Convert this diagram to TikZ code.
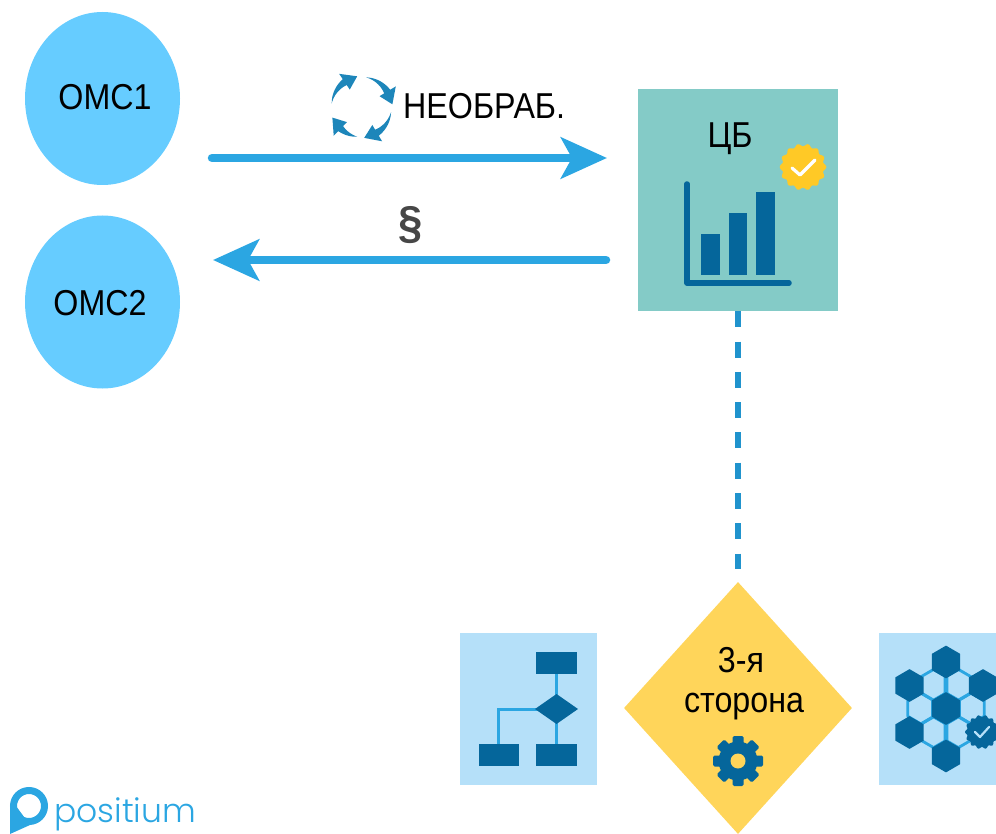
\documentclass[tikz,border=0pt]{standalone}
\usepackage{fontspec}
\setmainfont{Liberation Sans}
\newfontfamily\logofont{Poppins Light}
\usetikzlibrary{arrows.meta,shapes.geometric}
\definecolor{sky}{HTML}{66CCFF}
\definecolor{teal1}{HTML}{84CBC7}
\definecolor{navy1}{HTML}{05669B}
\definecolor{line1}{HTML}{2BA6E2}
\definecolor{pale}{HTML}{B5E0F9}
\definecolor{gold}{HTML}{FFD55A}
\definecolor{badge}{HTML}{FFC926}
\definecolor{cyc}{HTML}{1D86BA}
\newcommand{\hexcell}[3]{\path[shift={(#1,#2)},#3] (13.4,-7.8) -- (0,-15.6) -- (-13.4,-7.8) -- (-13.4,7.8) -- (0,15.6) -- (13.4,7.8) -- cycle;}
\newcommand{\cycarrow}[2]{%
  \fill[cyc] plot[domain=#1:#2-26,samples=12,variable=\t] ({361.5+(30+3.5*(\t-#1)/(#2-26-#1))*cos(\t)},{107+(30+3.5*(\t-#1)/(#2-26-#1))*sin(\t)})
   -- ({361.5+40*cos(#2-26)},{107+40*sin(#2-26)}) -- ({361.5+31*cos(#2)},{107+31*sin(#2)}) -- ({361.5+21*cos(#2-26)},{107+21*sin(#2-26)})
   -- ({361.5+26.5*cos(#2-26)},{107+26.5*sin(#2-26)})
   -- plot[domain=#2-26:#1,samples=12,variable=\t] ({361.5+(30-3.5*(\t-#1)/(#2-26-#1))*cos(\t)},{107+(30-3.5*(\t-#1)/(#2-26-#1))*sin(\t)}) -- cycle;}
\tikzset{
  x=1pt,y=-1pt,
  oval/.style={ellipse,fill=sky,minimum width=155pt,minimum height=173pt,inner sep=0pt},
  lbl/.style={font=\fontsize{36}{38}\selectfont,text=black,inner sep=0pt,xscale=.895,anchor=base},
  flow/.style={line width=8.5pt,line1,line cap=round},
  tip/.style={-{Stealth[length=46pt,width=41pt,inset=11pt]}},
  chartbar/.style={fill=navy1},
  paneltile/.style={fill=pale,inner sep=0pt},
  dashline/.style={line width=6.5pt,line1!70!navy1,dash pattern=on 16pt off 14.3pt},
}
\begin{document}
\begin{tikzpicture}
\useasboundingbox (0,0) rectangle (996,834);
% connectors' free ends
\coordinate (a1) at (212,158);
\coordinate (a2) at (607,158);
\coordinate (b1) at (606,260);
\coordinate (b2) at (213,260);
% nodes
\node[oval] (omc1) at (102.5,98.5) {};
\node[lbl] (omc1t) at (105,110) {ОМС1};
\node[oval] (omc2) at (102.5,302) {};
\node[lbl] (omc2t) at (100,316) {ОМС2};
\node[fill=teal1,minimum width=200pt,minimum height=222pt,inner sep=0pt] (cb) at (738,200) {};
\node[diamond,fill=gold,aspect=.9,minimum width=228pt,minimum height=252pt,inner sep=0pt] (third) at (738,708) {};
\draw[dashline,shorten >=13pt] (cb) -- (third);
\draw[flow,tip] (a1) -- (a2);
\draw[flow,tip] (b1) -- (b2);
% labels
\node[lbl,anchor=base west] (raw) at (403,119) {НЕОБРАБ.};
\node[font=\fontsize{46}{48}\selectfont\bfseries,text=black!72,inner sep=0pt,xscale=.95] (par) at (411,225) {§};
\node[lbl] (cbt) at (730,148) {ЦБ};
\node[lbl] (t1) at (741,672) {3-я};
\node[lbl] (t2) at (744,712) {сторона};
% cycle icon
\cycarrow{187}{262}
\cycarrow{279}{355}
\cycarrow{10}{85}
\cycarrow{98}{160}
% chart
\fill[chartbar] (701,234) rectangle (720,275);
\fill[chartbar] (729,213) rectangle (747,275);
\fill[chartbar] (756,192) rectangle (775,275);
\draw[navy1,line width=5.5pt,line cap=round,line join=round] (687,184) -- (687,283) -- (789,283);
% badge
\fill[badge] plot[domain=0:360,samples=180,smooth,variable=\t] ({803+(22+1.3*cos(14*\t))*cos(\t)},{167+(22+1.3*cos(14*\t))*sin(\t)}) -- cycle;
\draw[white,line width=3.2pt,line cap=round,line join=round] (792,168) -- (800,175) -- (815,160);
% gear
\foreach \a in {0,45,...,315}{
  \fill[navy1,rounded corners=1.5pt,shift={(738,761)},rotate=\a] (-5.5,-25) rectangle (5.5,-14);
}
\fill[navy1] (738,761) circle[radius=19.5];
\fill[gold] (738,761) circle[radius=7.5];
% left tile
\node[paneltile,minimum width=137pt,minimum height=152pt] (leftp) at (528.5,709) {};
\draw[line1,line width=3pt] (556.5,663) -- (556.5,755);
\draw[line1,line width=3pt] (556,709) -- (498.5,709) -- (498.5,755);
\fill[navy1] (536,652) rectangle (577,674);
\fill[navy1] (479,744) rectangle (519,766);
\fill[navy1] (536,744) rectangle (577,766);
\fill[navy1] (556.5,694) -- (578,709) -- (556.5,724) -- (535,709) -- cycle;
% right tile
\node[paneltile,minimum width=117pt,minimum height=152pt] (rightp) at (937.5,709) {};
\foreach \px/\py in {933.6/685,958.4/685,921.2/708.5,946/708.5,970.8/708.5,933.6/732,958.4/732}{
  \hexcell{\px}{\py}{draw=line1,line width=2.8pt,line join=round}
}
\foreach \px/\py in {946/662,909.5/685.5,983/685.5,946/708.5,909.5/732.5,946/756}{
  \hexcell{\px}{\py}{fill=navy1,scale=1.05}
}
\fill[navy1] plot[domain=0:360,samples=150,smooth,variable=\t] ({982+(16+1*cos(14*\t))*cos(\t)},{732+(16+1*cos(14*\t))*sin(\t)}) -- cycle;
\draw[pale,line width=2.2pt,line cap=round,line join=round] (975,732) -- (980,737) -- (989,727);
% logo
\draw[line1,line width=7pt] (29,806) circle[radius=15.5];
\fill[line1] (10,806) -- (10,834) -- (30,825) -- (16,806) -- cycle;
\node[font=\fontsize{33}{35}\selectfont\logofont,text=line1,anchor=base west,inner sep=0pt] (logo) at (54,822) {positium};
\end{tikzpicture}
\end{document}
